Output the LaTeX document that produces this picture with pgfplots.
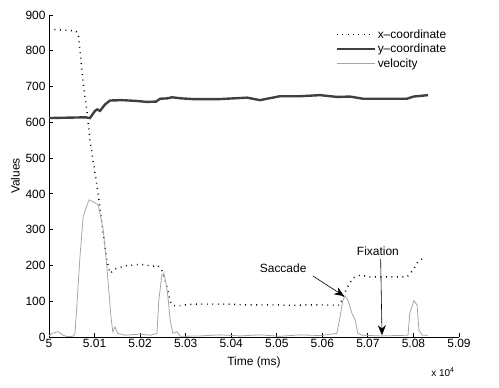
\documentclass[border=0pt]{standalone}
\usepackage{pgfplots}
\pgfplotsset{compat=1.18}
\usepackage{fontspec}
\setmainfont{Liberation Sans}
\usetikzlibrary{arrows.meta}
\definecolor{ycol}{HTML}{404040}
\definecolor{vcol}{HTML}{A6A6A6}
\begin{document}
\begin{tikzpicture}
\useasboundingbox (-49bp,-51bp) rectangle (450bp,337bp);
\begin{axis}[
  scale only axis, width=410bp, height=322bp,
  at={(0,0)}, anchor=south west,
  axis lines=left, axis line style={-, line width=0.8pt},
  tick align=inside, major tick length=4bp,
  tick style={black, line width=0.8pt},
  xmin=5, xmax=5.09, ymin=0, ymax=900,
  xtick={5,5.01,5.02,5.03,5.04,5.05,5.06,5.07,5.08,5.09},
  xticklabels={5,5.01,5.02,5.03,5.04,5.05,5.06,5.07,5.08,5.09},
  ytick={0,100,...,900},
  /pgf/number format/assume math mode=true,
  tick label style={font=\fontsize{12}{14}\selectfont},
  label style={font=\fontsize{12}{14}\selectfont},
  xticklabel style={yshift=1bp},
  xlabel={Time (ms)}, ylabel={Values},
  xlabel style={yshift=-2bp},
  ylabel style={yshift=-1bp},
  legend image code/.code={\draw[#1] (0bp,0bp) -- (38bp,0bp);},
  legend style={at={(0.698,0.962)}, anchor=north west, draw=none, fill=none,
    font=\fontsize{12}{13}\selectfont, row sep=0.5bp, inner sep=0pt,
    nodes={inner sep=2bp}},
  legend cell align=left,
]
\addplot[black, line width=1.5pt, dash pattern=on 0.9pt off 4.6pt] coordinates {
(5.0000,860) (5.0020,859) (5.0040,857) (5.0058,856) (5.0064,849) (5.0068,802)
(5.0075,709) (5.0083,634) (5.0090,550) (5.0101,458) (5.0108,400) (5.0116,318)
(5.0123,251) (5.0127,215) (5.0134,178) (5.0145,190) (5.0171,200) (5.0200,203)
(5.0228,198) (5.0239,200) (5.0248,185) (5.0257,150) (5.0266,100) (5.0272,88)
(5.0288,88) (5.0316,92) (5.0391,92) (5.0426,90) (5.0500,90) (5.0536,88)
(5.0573,90) (5.0639,89) (5.0645,112) (5.0654,137) (5.0667,165) (5.0683,173)
(5.0705,168) (5.0786,168) (5.0799,187) (5.0810,210) (5.0825,224)
};
\addlegendentry{x--coordinate}
\addplot[ycol, line width=2.4pt] coordinates {
(5.0000,612) (5.0040,613) (5.0080,614) (5.0090,612) (5.0101,632) (5.0106,636)
(5.0112,632) (5.0123,650) (5.0134,661) (5.0160,662) (5.0190,660) (5.0215,657)
(5.0235,658) (5.0244,666) (5.0260,667) (5.0270,670) (5.0290,667) (5.0316,665)
(5.0375,665) (5.0435,669) (5.0463,662) (5.0507,673) (5.0551,673) (5.0595,676)
(5.0632,671) (5.0661,672) (5.0689,666) (5.0786,666) (5.0800,672) (5.0832,676)
};
\addlegendentry{y--coordinate}
\addplot[vcol, line width=0.8pt] coordinates {
(5.0000,3) (5.0007,10) (5.0020,15) (5.0031,5) (5.0040,1) (5.0053,2) (5.0057,10)
(5.0061,85) (5.0068,224) (5.0075,336) (5.0081,360) (5.0088,383) (5.0097,378)
(5.0108,369) (5.0119,300) (5.0127,196) (5.0136,57) (5.0140,15) (5.0145,28)
(5.0151,10) (5.0167,5) (5.0200,8) (5.0222,5) (5.0237,10) (5.0241,103)
(5.0248,175) (5.0252,178) (5.0257,150) (5.0261,113) (5.0266,47) (5.0272,10)
(5.0281,15) (5.0288,2) (5.0331,3) (5.0375,6) (5.0419,3) (5.0463,6) (5.0507,2)
(5.0551,6) (5.0595,4) (5.0632,10) (5.0639,57) (5.0645,102) (5.0650,115)
(5.0656,103) (5.0665,66) (5.0672,47) (5.0678,10) (5.0687,5) (5.0727,3)
(5.0760,4) (5.0788,5) (5.0792,66) (5.0801,102) (5.0808,89) (5.0812,20)
(5.0819,5) (5.0832,5)
};
\addlegendentry{velocity}
\draw[-{Stealth[length=10bp,width=8bp]}, line width=0.6pt] (axis cs:5.0580,170) -- (axis cs:5.0648,114);
\node[font=\fontsize{12}{14}\selectfont] at (axis cs:5.0514,193) {Saccade};
\draw[-{Stealth[length=10bp,width=8bp]}, line width=0.6pt] (axis cs:5.0728,218) -- (axis cs:5.0731,5);
\node[font=\fontsize{12}{14}\selectfont] at (axis cs:5.0722,241) {Fixation};
\end{axis}
\node[font=\fontsize{10}{12}\selectfont] at (394bp,-35bp) {x 10\textsuperscript{4}};
\end{tikzpicture}
\end{document}
